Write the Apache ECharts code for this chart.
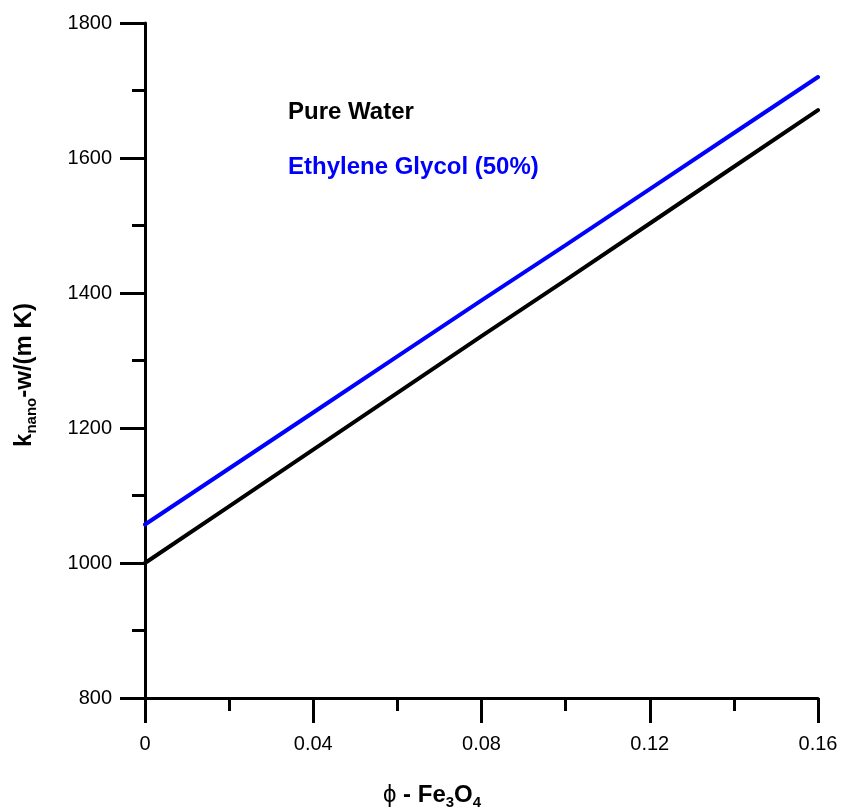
<!DOCTYPE html>
<html>
<head>
<meta charset="utf-8">
<script src="https://cdn.jsdelivr.net/npm/echarts@6/dist/echarts.min.js"></script>
<style>
  html, body { margin: 0; padding: 0; background: #fff; }
  #chart { width: 841px; height: 812px; }
</style>
</head>
<body>
<div id="chart"></div>
<script>
// Volume fraction of Fe3O4 nanoparticles
const phi = [0, 0.02, 0.04, 0.06, 0.08, 0.10, 0.12, 0.14, 0.16];
// Thermal conductivity of the nanofluid, W/(m K)
const pureWater = [1000, 1084, 1168, 1252, 1336, 1419, 1503, 1587, 1671];
const ethyleneGlycol = [1057, 1140, 1223, 1306, 1389, 1471, 1554, 1637, 1720];

const seriesNames = ['Pure Water', 'Ethylene Glycol (50%)'];
const seriesColors = ['#000000', '#0000ff'];

const FONT = 'Liberation Sans, Arial, Helvetica, sans-serif';

const chart = echarts.init(document.getElementById('chart'), null, { renderer: 'canvas' });

function pairs(xs, ys) { return xs.map((x, i) => [x, ys[i]]); }

const axisCommon = {
  axisLine: { show: true, onZero: false, lineStyle: { color: '#000', width: 3 } },
  axisTick: { show: true, inside: false, length: 25, lineStyle: { color: '#000', width: 3 } },
  minorTick: { show: true, splitNumber: 2, length: 13, lineStyle: { color: '#000', width: 3 } },
  splitLine: { show: false },
  axisLabel: { color: '#000', fontSize: 20, fontFamily: FONT }
};

chart.setOption({
  animation: false,
  backgroundColor: '#fff',
  grid: { left: 145, right: 23, top: 23, bottom: 114, containLabel: false },
  xAxis: Object.assign({}, axisCommon, {
    type: 'value', min: 0, max: 0.16, interval: 0.04,
    axisLabel: Object.assign({}, axisCommon.axisLabel, {
      margin: 36,
      formatter: v => (v === 0 ? '0' : v.toFixed(2))
    })
  }),
  yAxis: Object.assign({}, axisCommon, {
    type: 'value', min: 800, max: 1800, interval: 200,
    axisLabel: Object.assign({}, axisCommon.axisLabel, {
      margin: 33,
      formatter: v => String(v)
    })
  }),
  series: [
    {
      name: seriesNames[0], type: 'line', data: pairs(phi, pureWater),
      symbol: 'none', z: 3,
      lineStyle: { color: seriesColors[0], width: 4, cap: 'round' }
    },
    {
      name: seriesNames[1], type: 'line', data: pairs(phi, ethyleneGlycol),
      symbol: 'none', z: 3,
      lineStyle: { color: seriesColors[1], width: 4, cap: 'round' }
    }
  ],
  graphic: [
    {
      type: 'text', left: 288, top: 100,
      style: { text: seriesNames[0], fill: seriesColors[0], font: 'bold 24px ' + FONT }
    },
    {
      type: 'text', left: 288, top: 155,
      style: { text: seriesNames[1], fill: seriesColors[1], font: 'bold 24px ' + FONT }
    },
    {
      // x-axis title: phi - Fe3O4
      type: 'text', x: 383, y: 795,
      style: {
        text: '{p|ϕ}{b| - Fe}{s|3}{b|O}{s|4}',
        align: 'left', verticalAlign: 'middle',
        rich: {
          p: { fontSize: 24, fontFamily: FONT, fill: '#000' },
          b: { fontSize: 24, fontWeight: 'bold', fontFamily: FONT, fill: '#000' },
          s: { fontSize: 15, fontWeight: 'bold', fontFamily: FONT, fill: '#000', padding: [16, 0, 0, 0] }
        }
      }
    },
    {
      // y-axis title: k_nano - W/(m K)
      type: 'text', x: 24, y: 375, rotation: Math.PI / 2,
      style: {
        text: '{b|k}{s|nano}{b|-w/(m K)}',
        align: 'center', verticalAlign: 'middle',
        rich: {
          b: { fontSize: 24, fontWeight: 'bold', fontFamily: FONT, fill: '#000' },
          s: { fontSize: 15, fontWeight: 'bold', fontFamily: FONT, fill: '#000', padding: [16, 0, 0, 0] }
        }
      }
    }
  ]
});
</script>
</body>
</html>
